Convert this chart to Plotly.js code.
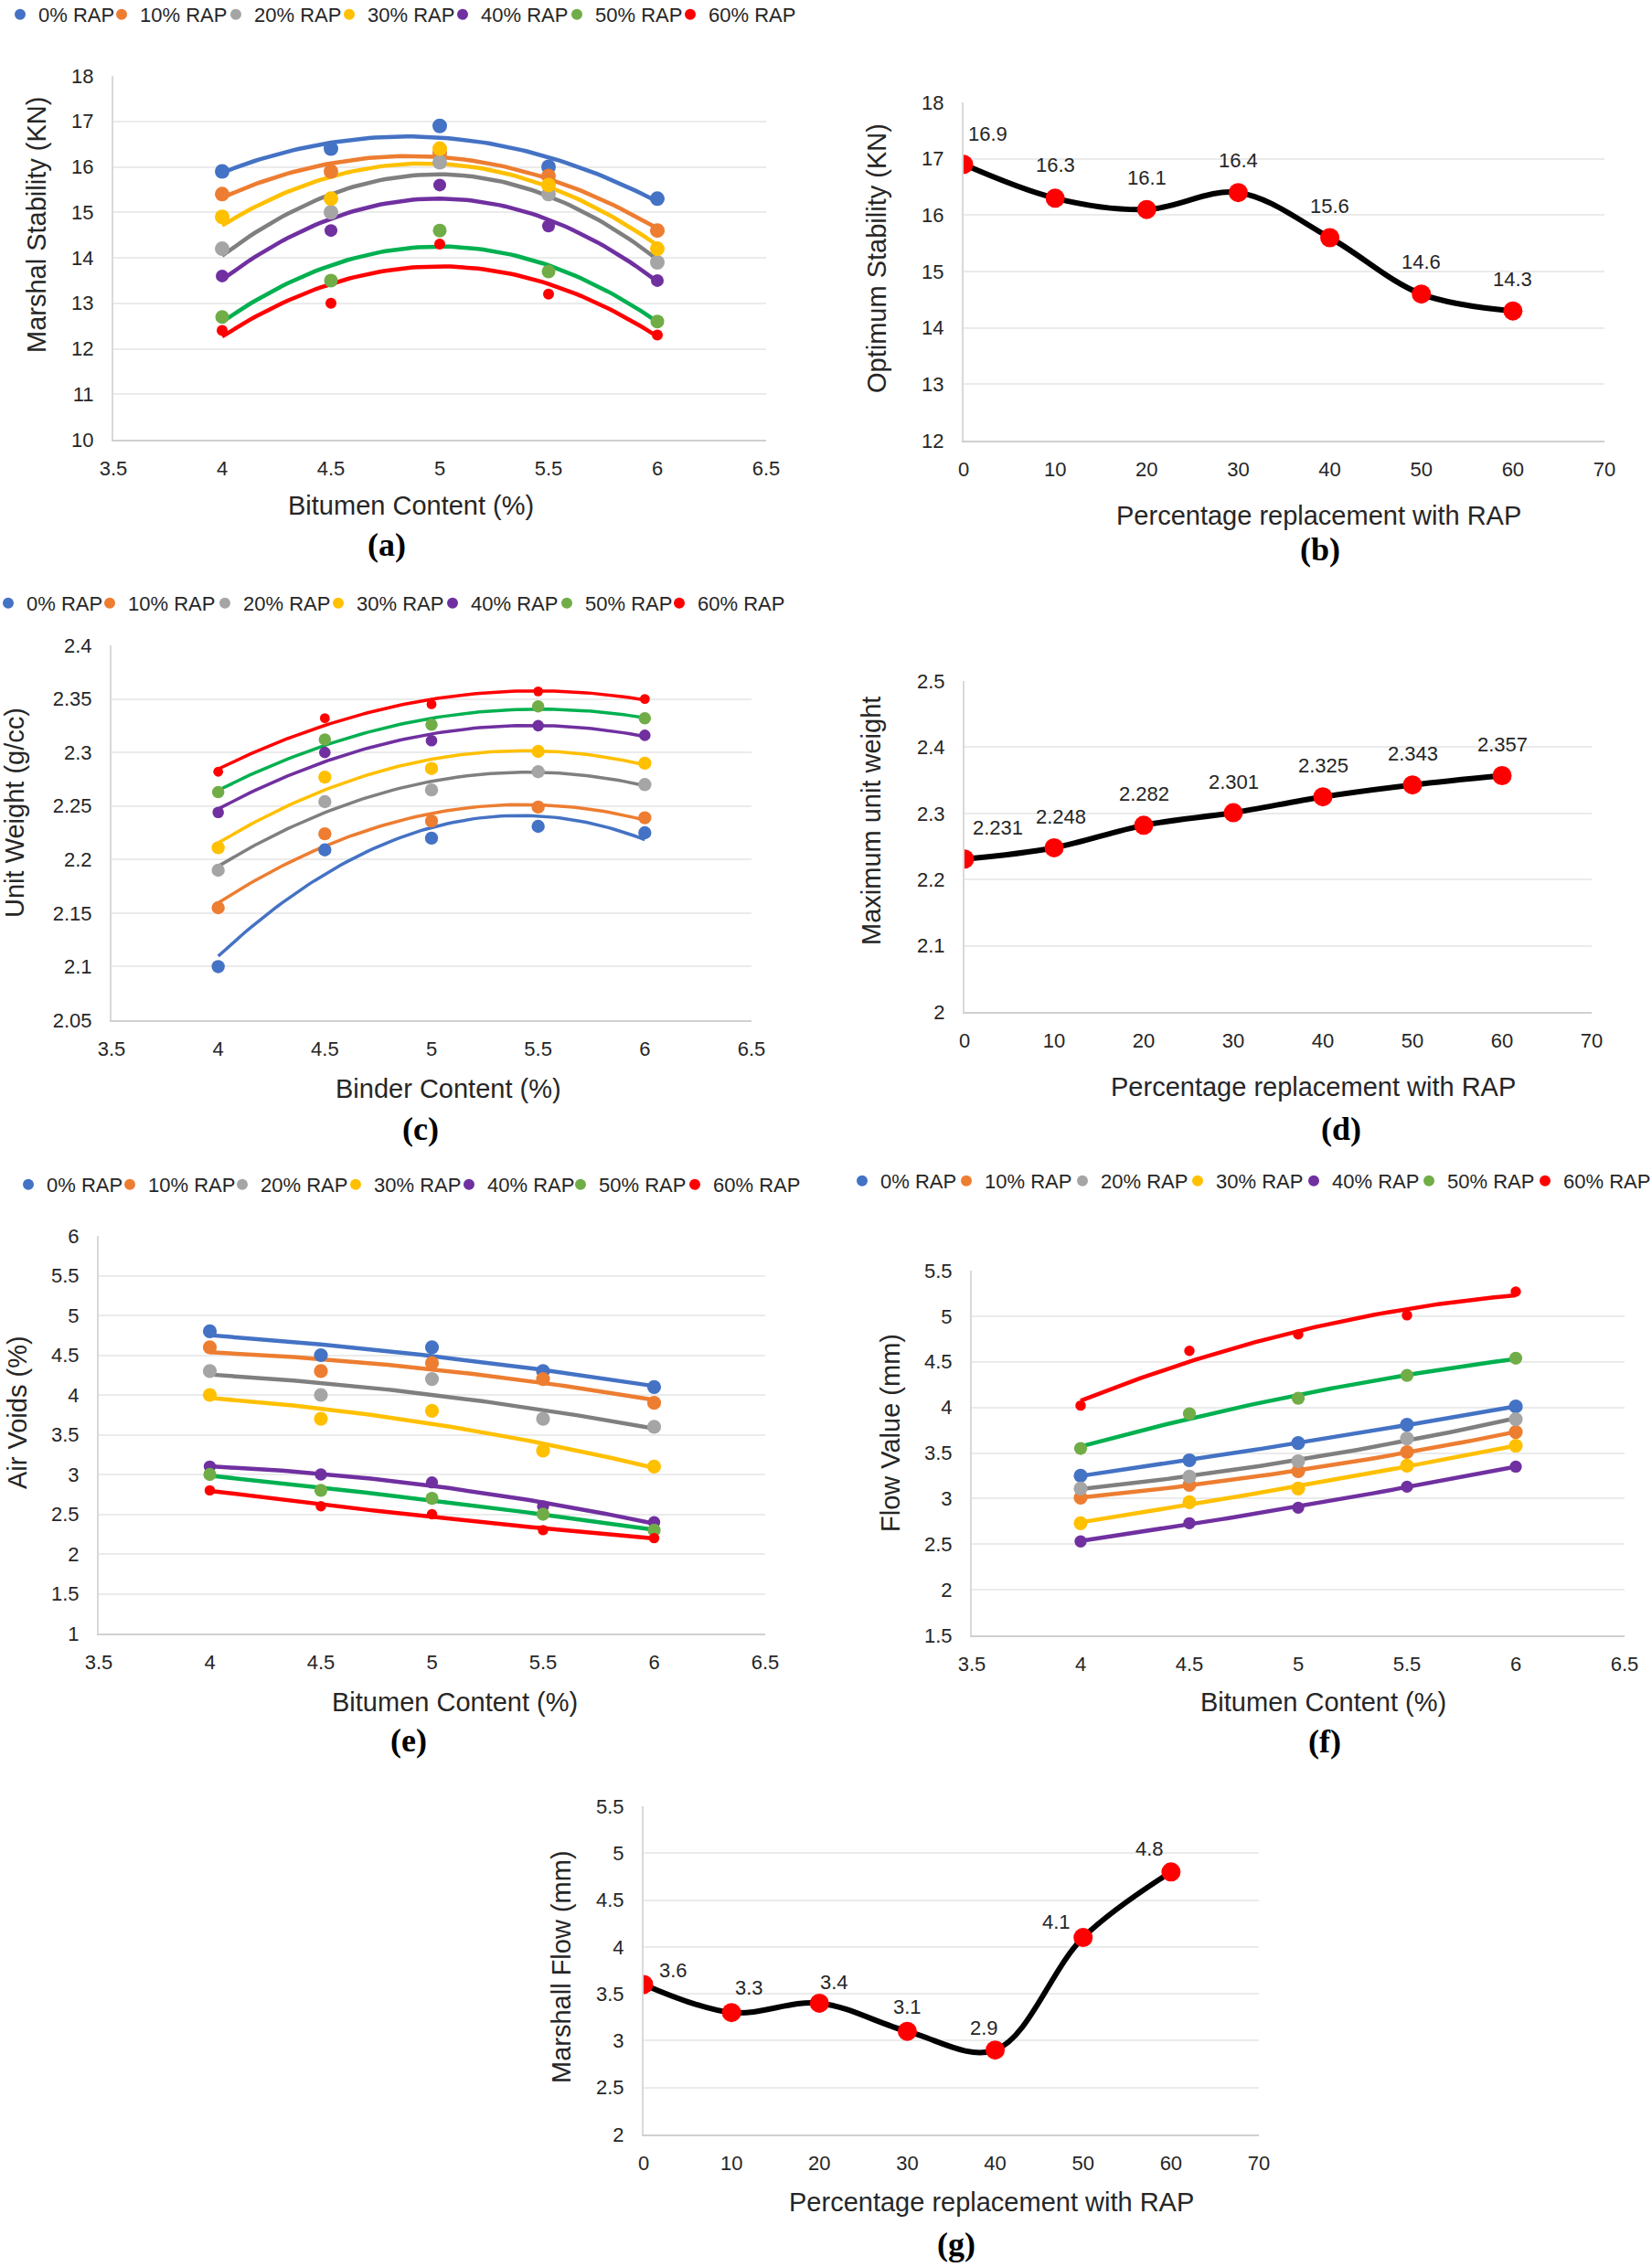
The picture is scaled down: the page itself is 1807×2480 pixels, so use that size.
<!DOCTYPE html>
<html><head><meta charset="utf-8">
<script src="https://cdn.plot.ly/plotly-3.0.1.min.js"></script>
<style>html,body{margin:0;padding:0;background:#fff;overflow:hidden}#chart{width:1807px;height:2480px}</style>
</head><body><div id="chart"></div>
<script>
// ---------------- DATA ----------------
const bitumenContent = [4, 4.5, 5, 5.5, 6];
const rapNames = ['0% RAP','10% RAP','20% RAP','30% RAP','40% RAP','50% RAP','60% RAP'];
const rapPercent = [0, 10, 20, 30, 40, 50, 60];

// (a) Marshall stability (kN), one row per RAP level
const stabilityByRap = [
  [15.9, 16.4, 16.9, 16.0, 15.3],
  [15.4, 15.9, 16.3, 15.8, 14.6],
  [14.2, 15.0, 16.1, 15.4, 13.9],
  [14.9, 15.3, 16.4, 15.6, 14.2],
  [13.6, 14.6, 15.6, 14.7, 13.5],
  [12.7, 13.5, 14.6, 13.7, 12.6],
  [12.4, 13.0, 14.3, 13.2, 12.3]
];
// (b) optimum stability
const optimumStability = [16.9, 16.3, 16.1, 16.4, 15.6, 14.6, 14.3];

// (c) unit weight (g/cc)
const unitWeightByRap = [
  [2.100, 2.209, 2.220, 2.231, 2.225],
  [2.155, 2.224, 2.236, 2.249, 2.239],
  [2.190, 2.254, 2.265, 2.282, 2.270],
  [2.211, 2.277, 2.285, 2.301, 2.290],
  [2.244, 2.300, 2.311, 2.325, 2.316],
  [2.263, 2.312, 2.326, 2.343, 2.332],
  [2.282, 2.332, 2.345, 2.357, 2.350]
];
// (d) maximum unit weight
const maxUnitWeight = [2.231, 2.248, 2.282, 2.301, 2.325, 2.343, 2.357];

// (e) air voids (%)
const airVoidsByRap = [
  [4.8, 4.5, 4.6, 4.3, 4.1],
  [4.6, 4.3, 4.4, 4.2, 3.9],
  [4.3, 4.0, 4.2, 3.7, 3.6],
  [4.0, 3.7, 3.8, 3.3, 3.1],
  [3.1, 3.0, 2.9, 2.6, 2.4],
  [3.0, 2.8, 2.7, 2.5, 2.3],
  [2.8, 2.6, 2.5, 2.3, 2.2]
];

// (f) flow value (mm)
const flowByRap = [
  [3.25, 3.42, 3.61, 3.81, 4.01],
  [3.01, 3.15, 3.30, 3.51, 3.73],
  [3.11, 3.24, 3.41, 3.66, 3.87],
  [2.73, 2.96, 3.11, 3.36, 3.58],
  [2.53, 2.73, 2.90, 3.13, 3.35],
  [3.55, 3.93, 4.10, 4.35, 4.54],
  [4.02, 4.62, 4.80, 5.01, 5.27]
];
// (g) Marshall flow at optimum
const marshallFlow = [3.6, 3.3, 3.4, 3.1, 2.9, 4.1, 4.8];

// ---------------- STYLE ----------------
const W = 1807, H = 2480;
const FONT = 'Liberation Sans, Arial, sans-serif';
const TXT = '#262626';
const markerColors = ['#4472C4','#ED7D31','#A5A5A5','#FFC000','#7030A0','#70AD47','#FF0000'];
const lineColors   = ['#4472C4','#ED7D31','#7F7F7F','#FFC000','#7030A0','#00B050','#FF0000'];
const markerSizes  = [16, 16, 16, 16, 14, 15, 12];

// panel boxes in page pixels: [left, right, top, bottom]
const boxes = {
  a: [124, 838, 83, 481],
  b: [1054, 1755, 112, 482],
  c: [122, 822, 706, 1116],
  d: [1055, 1741, 745, 1107],
  e: [108, 837, 1352, 1787],
  f: [1063, 1777, 1390, 1789],
  g: [704, 1377, 1976, 2335]
};
// legend entry symbol positions (page px) and row centre for each scatter panel
const legendSpots = {
  a: {xs: [22, 133, 258, 382, 506, 631, 755], y: 16},
  c: {xs: [9, 120, 246, 370, 495, 620, 743], y: 660},
  e: {xs: [31, 142, 265, 389, 513, 635, 760], y: 1296},
  f: {xs: [943, 1057, 1184, 1310, 1437, 1563, 1690], y: 1292}
};
const px = v => v / W, py = v => 1 - v / H;

// least-squares polynomial (order 2) trendline, as Excel does
function quadFit(xs, ys) {
  const S = [0,0,0,0,0], T = [0,0,0];
  for (let i = 0; i < xs.length; i++) {
    let p = 1;
    for (let k = 0; k < 5; k++) { S[k] += p; if (k < 3) T[k] += p * ys[i]; p *= xs[i]; }
  }
  const A = [[S[0],S[1],S[2],T[0]],[S[1],S[2],S[3],T[1]],[S[2],S[3],S[4],T[2]]];
  for (let c = 0; c < 3; c++) {
    for (let r = c + 1; r < 3; r++) {
      const f = A[r][c] / A[c][c];
      for (let k = c; k < 4; k++) A[r][k] -= f * A[c][k];
    }
  }
  const co = [0,0,0];
  for (let r = 2; r >= 0; r--) {
    let s = A[r][3];
    for (let k = r + 1; k < 3; k++) s -= A[r][k] * co[k];
    co[r] = s / A[r][r];
  }
  return co;
}
function trend(xs, ys) {
  const co = quadFit(xs, ys);
  const x0 = Math.min(...xs), x1 = Math.max(...xs), tx = [], ty = [];
  for (let i = 0; i <= 80; i++) {
    const x = x0 + (x1 - x0) * i / 80;
    tx.push(x); ty.push(co[0] + co[1] * x + co[2] * x * x);
  }
  return {x: tx, y: ty};
}

const traces = [];
const annotations = [];
const legends = {};
let legendCount = 0;

function makeLegend(markerX, cy) {
  legendCount++;
  const id = legendCount === 1 ? 'legend' : 'legend' + legendCount;
  legends[id] = {orientation: 'h', x: px(markerX - 20), y: py(cy), xanchor: 'left', yanchor: 'middle',
    font: {family: FONT, size: 22, color: TXT}, itemsizing: 'constant', bgcolor: 'rgba(0,0,0,0)',
    borderwidth: 0, itemclick: false};
  return id;
}

function scatterPanel(rows, ax, spot, lw, sizeScale) {
  rows.forEach((ys, i) => {
    const t = trend(bitumenContent, ys);
    traces.push({x: t.x, y: t.y, mode: 'lines', xaxis: 'x' + ax, yaxis: 'y' + ax,
      line: {color: lineColors[i], width: lw}, showlegend: false, hoverinfo: 'skip'});
  });
  rows.forEach((ys, i) => {
    traces.push({x: bitumenContent, y: ys, mode: 'markers', name: rapNames[i],
      xaxis: 'x' + ax, yaxis: 'y' + ax, legend: makeLegend(spot.xs[i], spot.y), showlegend: true,
      marker: {color: markerColors[i], size: markerSizes[i] * sizeScale}});
  });
}
function linePanel(vals, ax, dx, dy) {
  traces.push({x: rapPercent, y: vals, mode: 'lines+markers', xaxis: 'x' + ax, yaxis: 'y' + ax,
    line: {color: '#000', width: 6, shape: 'spline', smoothing: 1},
    marker: {color: '#FF0000', size: 21}, showlegend: false});
  vals.forEach((v, i) => {
    annotations.push({xref: 'x' + ax, yref: 'y' + ax, x: rapPercent[i], y: v, text: String(v),
      showarrow: false, xshift: dx[i], yshift: dy[i], font: {family: FONT, size: 22, color: TXT}});
  });
}

scatterPanel(stabilityByRap, '', legendSpots.a, 4.5, 1);
linePanel(optimumStability, '2', [26,0,0,0,0,0,0], [33,36,35,35,35,35,35]);
scatterPanel(unitWeightByRap, '3', legendSpots.c, 3.5, 0.9);
linePanel(maxUnitWeight, '4', [36,7,0,0,0,0,0], [34,34,34,34,34,34,34]);
scatterPanel(airVoidsByRap, '5', legendSpots.e, 4.5, 0.95);
scatterPanel(flowByRap, '6', legendSpots.f, 4.5, 0.95);
linePanel(marshallFlow, '7', [32,19,16,0,-12,-29,-23], [15,27,23,27,24,17,25]);

function xAxis(box, range, dtick, anchor) {
  return {domain: [px(box[0]), px(box[1])], range: range, dtick: dtick, tick0: range[0],
    anchor: anchor, showgrid: false, zeroline: false, showline: true, linecolor: '#d0d0d0',
    linewidth: 2, ticks: '', ticklabelstandoff: 11, fixedrange: true, automargin: false,
    tickfont: {family: FONT, size: 22, color: TXT}};
}
function yAxis(box, range, dtick, anchor) {
  return {domain: [py(box[3]), py(box[2])], range: range, dtick: dtick, tick0: range[0],
    anchor: anchor, showgrid: true, gridcolor: '#ebebeb', gridwidth: 2, zeroline: false,
    showline: true, linecolor: '#d9d9d9', linewidth: 2, ticks: '', ticklabelstandoff: 15,
    fixedrange: true, automargin: false, tickfont: {family: FONT, size: 22, color: TXT}};
}

function title(text, x, y, angle) {
  annotations.push({xref: 'paper', yref: 'paper', x: px(x), y: py(y), text: text, showarrow: false,
    xanchor: 'center', yanchor: 'middle', textangle: angle || 0,
    font: {family: FONT, size: 29, color: TXT}});
}
function panelLabel(text, x, y) {
  annotations.push({xref: 'paper', yref: 'paper', x: px(x), y: py(y), text: '<b>' + text + '</b>',
    showarrow: false, xanchor: 'center', yanchor: 'middle',
    font: {family: 'Liberation Serif, Times New Roman, serif', size: 36, color: '#000'}});
}

title('Bitumen Content (%)', 449, 553);
title('Marshal Stability (KN)', 40, 246, -90);
panelLabel('(a)', 423, 596);
title('Percentage replacement with RAP', 1442, 564);
title('Optimum Stability (KN)', 959, 282, -90);
panelLabel('(b)', 1444, 601);
title('Binder Content (%)', 490, 1191);
title('Unit Weight (g/cc)', 16, 889, -90);
panelLabel('(c)', 460, 1235);
title('Percentage replacement with RAP', 1436, 1189);
title('Maximum unit weight', 953, 898, -90);
panelLabel('(d)', 1467, 1235);
title('Bitumen Content (%)', 497, 1862);
title('Air Voids (%)', 19, 1545, -90);
panelLabel('(e)', 447, 1904);
title('Bitumen Content (%)', 1447, 1862);
title('Flow Value (mm)', 974, 1568, -90);
panelLabel('(f)', 1449, 1905);
title('Percentage replacement with RAP', 1084, 2409);
title('Marshall Flow (mm)', 614, 2152, -90);
panelLabel('(g)', 1046, 2455);

const B = boxes;
const layout = Object.assign({
  width: W, height: H, margin: {l: 0, r: 0, t: 0, b: 0, pad: 0, autoexpand: false},
  paper_bgcolor: '#fff', plot_bgcolor: '#fff', showlegend: true,
  font: {family: FONT, color: TXT},
  xaxis:  xAxis(B.a, [3.5, 6.5], 0.5, 'y'),   yaxis:  yAxis(B.a, [10, 18], 1, 'x'),
  xaxis2: xAxis(B.b, [0, 70], 10, 'y2'),      yaxis2: yAxis(B.b, [12, 18], 1, 'x2'),
  xaxis3: xAxis(B.c, [3.5, 6.5], 0.5, 'y3'),  yaxis3: yAxis(B.c, [2.05, 2.4], 0.05, 'x3'),
  xaxis4: xAxis(B.d, [0, 70], 10, 'y4'),      yaxis4: yAxis(B.d, [2, 2.5], 0.1, 'x4'),
  xaxis5: xAxis(B.e, [3.5, 6.5], 0.5, 'y5'),  yaxis5: yAxis(B.e, [1, 6], 0.5, 'x5'),
  xaxis6: xAxis(B.f, [3.5, 6.5], 0.5, 'y6'),  yaxis6: yAxis(B.f, [1.5, 5.5], 0.5, 'x6'),
  xaxis7: xAxis(B.g, [0, 70], 10, 'y7'),      yaxis7: yAxis(B.g, [2, 5.5], 0.5, 'x7'),
  annotations: annotations
}, legends);

Plotly.newPlot('chart', traces, layout, {staticPlot: true, displayModeBar: false});
</script>
</body></html>
